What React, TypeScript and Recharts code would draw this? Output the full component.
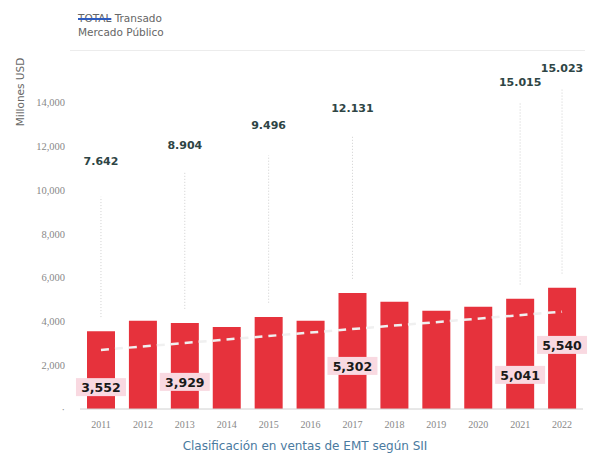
import { BarChart, Bar, XAxis, YAxis, ReferenceLine, ReferenceDot } from 'recharts';

// años de la serie
const years = ['2011', '2012', '2013', '2014', '2015', '2016', '2017', '2018', '2019', '2020', '2021', '2022'];
// ventas EMT (millones USD)
const ventas = [3552, 4030, 3929, 3750, 4210, 4030, 5302, 4900, 4490, 4670, 5041, 5540];
const yTicks = [0, 2000, 4000, 6000, 8000, 10000, 12000, 14000];

// totales transados en el mercado público (anotaciones de arriba)
const totalYears = ['2011', '2013', '2015', '2017', '2021', '2022'];
const totalLabels = ['7.642', '8.904', '9.496', '12.131', '15.015', '15.023'];
const totalStemTop = [9700, 10800, 11600, 12450, 14000, 14600];
const totalLabelAt = [11350, 12080, 13000, 13780, 14970, 15600];

// cajas rosadas con el valor de la barra
const boxYears = ['2011', '2013', '2017', '2021', '2022'];
const boxLabels = ['3,552', '3,929', '5,302', '5,041', '5,540'];
const boxAt = [1000, 1240, 1970, 1560, 2930];

// tendencia (extremos)
const trendEnds = [
  { x: '2011', y: 2700 },
  { x: '2022', y: 4450 },
];

const data = years.map((year, i) => ({ year, ventas: ventas[i] }));

const barFor = (year: string) => ventas[years.indexOf(year)];

const TotalText = ({ cx, cy, text }: any) => (
  <text
    x={cx}
    y={cy}
    dy={4}
    textAnchor="middle"
    fontFamily="DejaVu Sans"
    fontWeight="bold"
    fontSize={11}
    fill="#2e4545"
  >
    {text}
  </text>
);

const PinkBox = ({ cx, cy, text }: any) => (
  <g>
    <rect x={cx - 25} y={cy - 9} width={50} height={18} fill="#f9d9e1" />
    <text
      x={cx}
      y={cy}
      dy={5}
      textAnchor="middle"
      fontFamily="DejaVu Sans"
      fontWeight="bold"
      fontSize={12.5}
      fill="#1a1a1a"
    >
      {text}
    </text>
  </g>
);

export default function App() {
  return (
    <div style={{ position: 'absolute', left: 0, top: 0, width: 595, height: 455, background: '#fff' }}>
      <div
        style={{
          position: 'absolute',
          left: 78,
          top: 11,
          fontFamily: 'DejaVu Sans',
          fontSize: 10.5,
          lineHeight: '14px',
          color: '#666',
        }}
      >
        <div>
          <span
            style={{
              textDecoration: 'line-through',
              textDecorationColor: '#2f5cc0',
              textDecorationThickness: 2,
            }}
          >
            TOTAL
          </span>{' '}
          Transado
        </div>
        <div>Mercado Público</div>
      </div>
      <div style={{ position: 'absolute', left: 70, top: 50, width: 515, height: 1, background: '#ececec' }} />
      <div
        style={{
          position: 'absolute',
          left: 20,
          top: 92,
          transform: 'translate(-50%, -50%) rotate(-90deg)',
          fontFamily: 'DejaVu Sans',
          fontSize: 10.5,
          color: '#666',
          whiteSpace: 'nowrap',
        }}
      >
        Millones USD
      </div>
      <div
        style={{
          position: 'absolute',
          left: 0,
          width: 610,
          top: 439,
          textAlign: 'center',
          fontFamily: 'DejaVu Sans',
          fontSize: 12,
          color: '#4a7aa0',
        }}
      >
        Clasificación en ventas de EMT según SII
      </div>
      <BarChart
        width={595}
        height={455}
        data={data}
        margin={{ top: 59, right: 12, bottom: 0, left: 5 }}
        barSize={28}
        style={{ position: 'absolute', left: 0, top: 0 }}
      >
        <XAxis
          dataKey="year"
          axisLine={{ stroke: '#d0d0d0' }}
          tickLine={false}
          tick={{ fontSize: 10, fill: '#888', fontFamily: 'Liberation Serif' }}
          tickMargin={6}
          height={46}
        />
        <YAxis
          width={75}
          domain={[0, 16000]}
          ticks={yTicks}
          axisLine={false}
          tickLine={false}
          tickMargin={9}
          tick={{ fontSize: 10.5, fill: '#888', fontFamily: 'Liberation Serif' }}
          tickFormatter={(v: number) => (v === 0 ? '·' : v.toLocaleString('en-US'))}
        />
        <Bar dataKey="ventas" fill="#e6323c" isAnimationActive={false} />
        <ReferenceLine
          segment={trendEnds}
          stroke="#f0f0f0"
          strokeWidth={2.5}
          strokeDasharray="8 6"
          ifOverflow="visible"
        />
        {totalYears.map((year, i) => (
          <ReferenceLine
            key={`stem-${year}`}
            segment={[
              { x: year, y: barFor(year) + 650 },
              { x: year, y: totalStemTop[i] },
            ]}
            stroke="#cfcfcf"
            strokeDasharray="1 2"
            ifOverflow="visible"
          />
        ))}
        {totalYears.map((year, i) => (
          <ReferenceDot
            key={`total-${year}`}
            x={year}
            y={totalLabelAt[i]}
            ifOverflow="visible"
            shape={(p: any) => <TotalText cx={p.cx} cy={p.cy} text={totalLabels[i]} />}
          />
        ))}
        {boxYears.map((year, i) => (
          <ReferenceDot
            key={`box-${year}`}
            x={year}
            y={boxAt[i]}
            ifOverflow="visible"
            shape={(p: any) => <PinkBox cx={p.cx} cy={p.cy} text={boxLabels[i]} />}
          />
        ))}
      </BarChart>
    </div>
  );
}
